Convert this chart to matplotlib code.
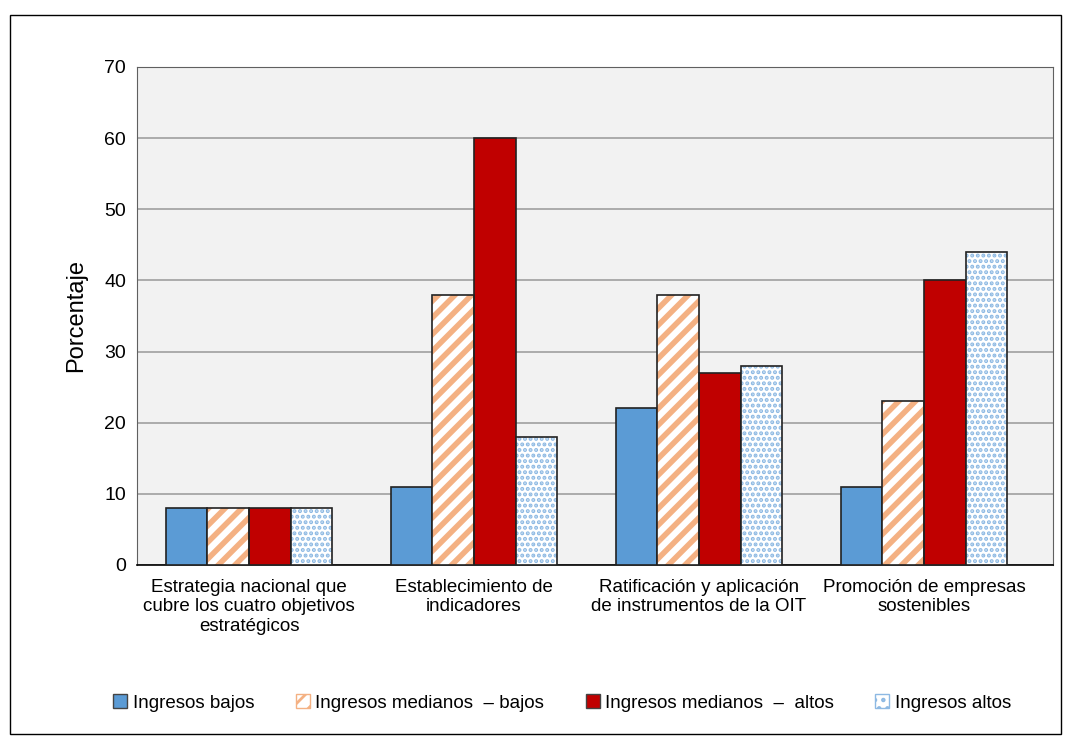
import numpy as np
import matplotlib.pyplot as plt
from matplotlib.patches import Rectangle, Patch
from matplotlib import font_manager

names = {f.name for f in font_manager.fontManager.ttflist}
fam = ['Liberation Sans Narrow', 'Liberation Sans', 'DejaVu Sans']
plt.rcParams['font.family'] = [f for f in fam if f in names] or ['DejaVu Sans']

categories = ["Estrategia nacional que\ncubre los cuatro objetivos\nestratégicos",
              "Establecimiento de\nindicadores",
              "Ratificación y aplicación\nde instrumentos de la OIT",
              "Promoción de empresas\nsostenibles"]
series = ["Ingresos bajos", "Ingresos medianos  – bajos",
          "Ingresos medianos  –  altos", "Ingresos altos"]
bajos = [8, 11, 22, 11]
med_bajos = [8, 38, 38, 23]
med_altos = [8, 60, 27, 40]
altos = [8, 18, 28, 44]

values = [bajos, med_bajos, med_altos, altos]
faces = ['#5B9BD5', 'white', '#C00000', 'white']
hatch_cols = [None, '#F4B183', None, '#8DB9E3']
hatches = [None, '//', None, '...']
hatch_lw = [1.0, 4.0, 1.0, 2.0]

fig = plt.figure(figsize=(10.71, 7.4), dpi=100)
fig.patches.append(Rectangle((0.009, 0.008), 0.982, 0.972, transform=fig.transFigure,
                             fill=False, edgecolor='black', linewidth=1))
ax = fig.add_axes([0.128, 0.2365, 0.855, 0.673])
ax.set_facecolor('#F2F2F2')

x = np.arange(len(categories))
w = 0.185
for i, (vals, fc, hc, h) in enumerate(zip(values, faces, hatch_cols, hatches)):
    pos = x + (i - 1.5) * w
    plt.rcParams['hatch.linewidth'] = hatch_lw[i]
    if h:
        ax.bar(pos, vals, w, color=fc, edgecolor=hc, hatch=h, linewidth=0, zorder=3)
        ax.bar(pos, vals, w, fill=False, edgecolor='#222222', linewidth=1.2, zorder=4)
    else:
        ax.bar(pos, vals, w, color=fc, edgecolor='#222222', linewidth=1.2, zorder=3)

ax.set_ylim(0, 70)
ax.set_yticks(range(0, 71, 10))
ax.set_xlim(-0.498, 3.573)
ax.set_xticks(x)
ax.set_xticklabels(categories, fontsize=13.5)
ax.tick_params(axis='y', labelsize=14, length=0, pad=8)
ax.tick_params(axis='x', length=0, pad=10)
ax.yaxis.grid(True, color='#A0A0A0', linewidth=1.2, zorder=0)
ax.set_axisbelow(True)
for s in ['left', 'right', 'top']:
    ax.spines[s].set_color('#606060')
    ax.spines[s].set_linewidth(0.8)
ax.spines['bottom'].set_color('black')
ax.spines['bottom'].set_linewidth(1.2)
ax.set_ylabel("Porcentaje", fontsize=17, labelpad=12)

plt.rcParams['hatch.linewidth'] = 2.0
handles = [Patch(facecolor='#5B9BD5', edgecolor='#444444'),
           Patch(facecolor='white', edgecolor='#F4B183', hatch='//'),
           Patch(facecolor='#C00000', edgecolor='#444444'),
           Patch(facecolor='white', edgecolor='#8DB9E3', hatch='..')]
fig.legend(handles, series, loc='center', bbox_to_anchor=(0.525, 0.05), ncol=4,
           frameon=False, fontsize=13.5, handlelength=0.75, handleheight=0.75,
           handletextpad=0.3, columnspacing=2.2)

fig.savefig('out.png', dpi=100)
